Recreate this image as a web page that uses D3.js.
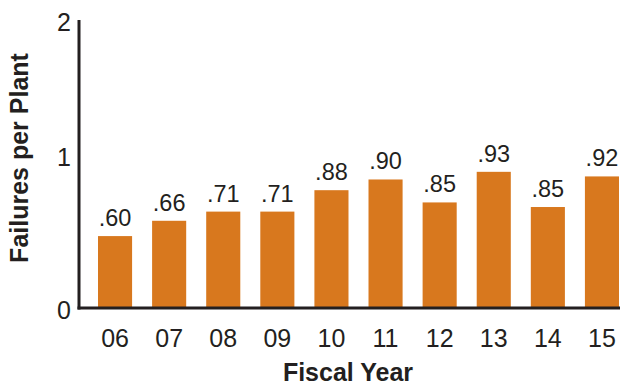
<!DOCTYPE html>
<html><head><meta charset="utf-8">
<script src="https://cdn.jsdelivr.net/npm/d3@7"></script>
<style>
body{margin:0;background:#fff}
svg{display:block;font-family:"Liberation Sans",Arial,Helvetica,sans-serif}
</style></head><body>
<svg id="c" width="620" height="387"></svg>
<script>
const years = ["06","07","08","09","10","11","12","13","14","15"];
const valueLabels = [".60",".66",".71",".71",".88",".90",".85",".93",".85",".92"];
// bar heights
const barValues = [0.47,0.57,0.63,0.63,0.77,0.84,0.69,0.89,0.66,0.86];
const yTicks = [0,1,2];
const yTitle = "Failures per Plant";
const xTitle = "Fiscal Year";

const svg = d3.select("#c");
const ink = "#231f20", bar = "#d8781e";

const x = d3.scaleBand().domain(years).range([98,619]).paddingInner(0.37).paddingOuter(0);
const y = d3.scaleLinear().domain([0,1,2]).range([308,155,20]);

svg.selectAll("rect.bar").data(years).join("rect")
  .attr("class","bar")
  .attr("x",d=>x(d)).attr("width",x.bandwidth())
  .attr("y",(d,i)=>y(barValues[i])).attr("height",(d,i)=>y(0)-y(barValues[i]))
  .attr("fill",bar);

svg.selectAll("text.val").data(years).join("text")
  .attr("class","val")
  .attr("x",d=>x(d)+x.bandwidth()/2)
  .attr("y",(d,i)=>y(barValues[i])-10)
  .attr("text-anchor","middle").attr("font-size",23.5).attr("fill",ink)
  .text((d,i)=>valueLabels[i]);

// axes lines
svg.append("line").attr("x1",79).attr("x2",79).attr("y1",y(2)).attr("y2",y(0)+1.5)
  .attr("stroke",ink).attr("stroke-width",3);
svg.append("line").attr("x1",77.5).attr("x2",620).attr("y1",y(0)).attr("y2",y(0))
  .attr("stroke",ink).attr("stroke-width",3);

// y tick labels
svg.selectAll("text.yt").data(yTicks).join("text")
  .attr("class","yt")
  .attr("x",71).attr("y",d=>y(d)+2)
  .attr("text-anchor","end").attr("dominant-baseline","central")
  .attr("font-size",25).attr("fill",ink).text(d=>d);

// x tick labels
svg.selectAll("text.xt").data(years).join("text")
  .attr("class","xt")
  .attr("x",d=>x(d)+x.bandwidth()/2).attr("y",347)
  .attr("text-anchor","middle").attr("font-size",25).attr("fill",ink).text(d=>d);

svg.append("text").attr("x",348).attr("y",381).attr("text-anchor","middle")
  .attr("font-size",25).attr("font-weight","bold").attr("fill",ink).text(xTitle);

svg.append("text").attr("transform","translate(19,158) rotate(-90)")
  .attr("text-anchor","middle").attr("dominant-baseline","central")
  .attr("font-size",25).attr("font-weight","bold").attr("fill",ink).text(yTitle);
</script>
</body></html>
